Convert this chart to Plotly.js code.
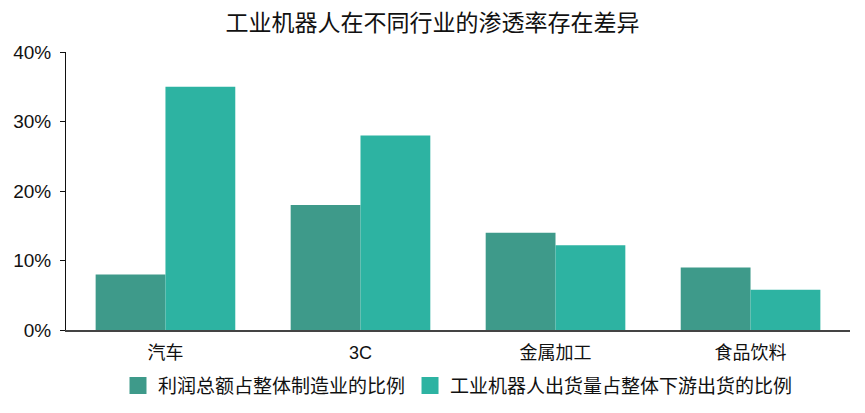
<!DOCTYPE html>
<html>
<head>
<meta charset="utf-8">
<script src="https://cdn.plot.ly/plotly-3.0.1.min.js"></script>
<style>html,body{margin:0;padding:0;background:#fff;}#chart{width:865px;height:413px;}</style>
</head>
<body>
<div id="chart"></div>
<script>
const categories = ["汽车", "3C", "金属加工", "食品饮料"];
const seriesNames = ["利润总额占整体制造业的比例", "工业机器人出货量占整体下游出货的比例"];
const profitShare = [8, 18, 14, 9];
const robotShare = [35, 28, 12.2, 5.8];
const yTicks = [0, 10, 20, 30, 40];
const colors = ['#3e9a8a', '#2db3a2'];

const cjk = '"Noto Sans CJK SC", "Noto Sans", sans-serif';
const mixed = '"Liberation Sans", "Noto Sans CJK SC", Arial, sans-serif';

const data = [
  {type: 'bar', name: seriesNames[0], x: categories, y: profitShare,
   marker: {color: colors[0]}, showlegend: false},
  {type: 'bar', name: seriesNames[1], x: categories, y: robotShare,
   marker: {color: colors[1]}, showlegend: false},
  // legend-only entries (no marks drawn) with larger swatches
  {type: 'bar', name: seriesNames[0], x: [categories[0]], y: [null], xaxis: 'x2', yaxis: 'y2',
   marker: {color: colors[0], line: {color: colors[0], width: 7}}, showlegend: true},
  {type: 'bar', name: seriesNames[1], x: [categories[0]], y: [null], xaxis: 'x2', yaxis: 'y2',
   marker: {color: colors[1], line: {color: colors[1], width: 7}}, showlegend: true}
];

const layout = {
  width: 865, height: 413,
  margin: {l: 66, r: 15, t: 52, b: 83, autoexpand: false},
  paper_bgcolor: '#fff', plot_bgcolor: '#fff',
  title: {text: '工业机器人在不同行业的渗透率存在差异', font: {family: cjk, size: 23, color: '#111'},
          x: 0.5, xanchor: 'center', y: 0.945, yanchor: 'middle'},
  barmode: 'group', bargap: 0.284, bargroupgap: 0,
  showlegend: true,
  legend: {orientation: 'h', x: 0.5, xanchor: 'center', y: -0.2, yanchor: 'middle',
           font: {family: cjk, size: 19, color: '#111'}, traceorder: 'normal'},
  xaxis: {range: [-0.51, 3.51], showline: true, linecolor: '#444', linewidth: 1.5,
          ticks: '', showgrid: false, zeroline: false, ticklabelstandoff: 6,
          tickfont: {family: mixed, size: 18, color: '#111'}},
  yaxis: {range: [0, 40], tickvals: yTicks, ticktext: yTicks.map(v => v + '%'),
          showline: true, linecolor: '#111', linewidth: 1, ticks: 'outside', ticklen: 5,
          tickcolor: '#111', showgrid: false, zeroline: false, ticklabelstandoff: 5,
          tickfont: {family: mixed, size: 19, color: '#111'}},
  xaxis2: {overlaying: 'x', visible: false, range: [0, 1]},
  yaxis2: {overlaying: 'y', visible: false, range: [0, 1]}
};

Plotly.newPlot('chart', data, layout, {displayModeBar: false, staticPlot: true});
</script>
</body>
</html>
